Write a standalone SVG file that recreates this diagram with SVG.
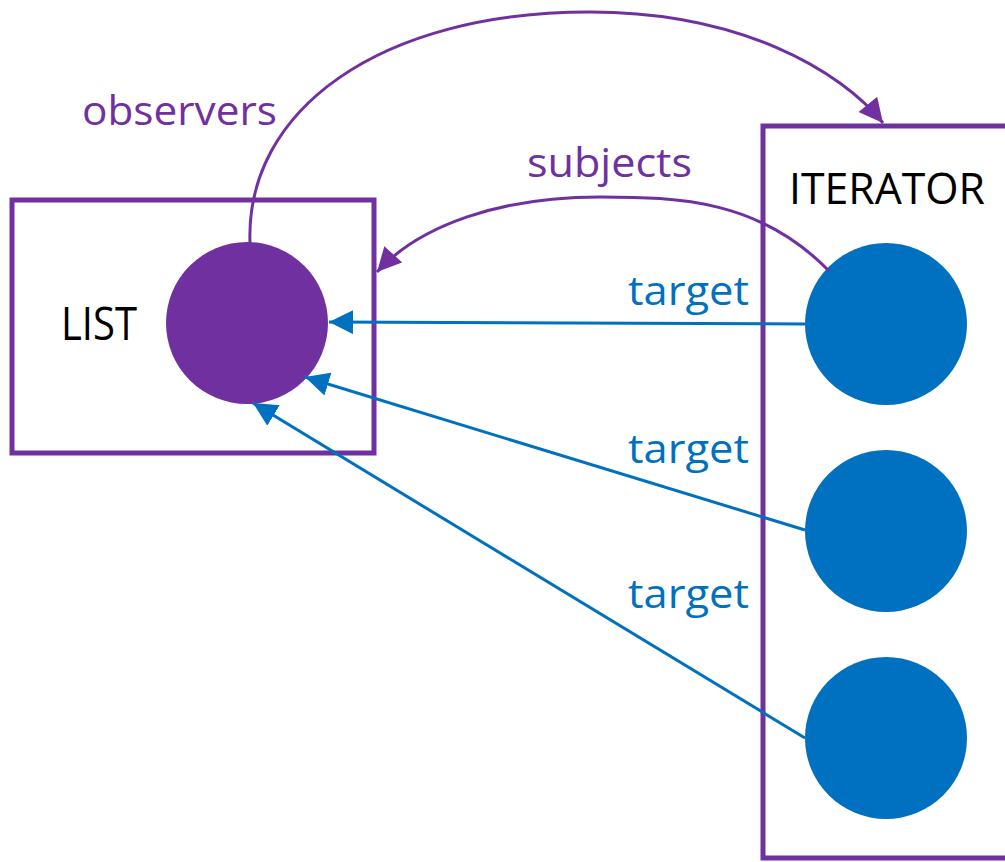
<svg xmlns="http://www.w3.org/2000/svg" width="1005" height="862" viewBox="0 0 1005 862">
<style>
.box{fill:#fff;stroke:#7030A0;stroke-width:5}
.lbl{font-family:"Open Sans","Liberation Sans",sans-serif}
.pur{fill:#7030A0}
.blu{fill:#0070C0}
.blk{fill:#000}
.cp{fill:none;stroke:#7030A0;stroke-width:3}
.cb{fill:none;stroke:#0070C0;stroke-width:3}
</style>
<defs>
<marker id="ap" viewBox="0 0 10 10" refX="10" refY="5" markerWidth="25" markerHeight="24" markerUnits="userSpaceOnUse" orient="auto"><path d="M0,0 L10,5 L0,10 z" fill="#7030A0"/></marker>
<marker id="ab" viewBox="0 0 10 10" refX="10" refY="5" markerWidth="24" markerHeight="24" markerUnits="userSpaceOnUse" orient="auto"><path d="M0,0 L10,5 L0,10 z" fill="#0070C0"/></marker>
</defs>
<g id="list">
<rect class="box" x="12" y="200" width="362" height="253"/>
<text class="lbl blk" x="61" y="340" font-size="45" textLength="76" lengthAdjust="spacingAndGlyphs">LIST</text>
</g>
<g id="iterator">
<rect class="box" x="763" y="126" width="260" height="732"/>
<text class="lbl blk" x="789" y="204" font-size="44" textLength="196" lengthAdjust="spacingAndGlyphs">ITERATOR</text>
</g>
<g id="list-node"><circle cx="247" cy="323" r="81" fill="#7030A0"/></g>
<g id="iter-node-1"><circle cx="886" cy="324" r="81" fill="#0070C0"/></g>
<g id="iter-node-2"><circle cx="886" cy="531" r="81" fill="#0070C0"/></g>
<g id="iter-node-3"><circle cx="886" cy="738" r="81" fill="#0070C0"/></g>
<g id="connectors">
<path class="cp" d="M250,243 C245,110 380,12 590,12 C740,12 840,70 883,123" marker-end="url(#ap)"/>
<path class="cp" d="M829,271 C760,200 680,197 600,197 C500,197 420,225 377,272" marker-end="url(#ap)"/>
<line class="cb" x1="805" y1="324" x2="329" y2="322" marker-end="url(#ab)"/>
<line class="cb" x1="805" y1="530" x2="305" y2="377" marker-end="url(#ab)"/>
<line class="cb" x1="805" y1="738" x2="253" y2="403" marker-end="url(#ab)"/>
</g>
<g id="labels">
<text class="lbl pur" x="82" y="125" font-size="41" textLength="195" lengthAdjust="spacingAndGlyphs">observers</text>
<text class="lbl pur" x="527" y="177" font-size="41" textLength="165" lengthAdjust="spacingAndGlyphs">subjects</text>
<text class="lbl blu" x="628" y="305" font-size="41" textLength="121" lengthAdjust="spacingAndGlyphs">target</text>
<text class="lbl blu" x="628" y="463" font-size="41" textLength="121" lengthAdjust="spacingAndGlyphs">target</text>
<text class="lbl blu" x="628" y="608" font-size="41" textLength="121" lengthAdjust="spacingAndGlyphs">target</text>
</g>
</svg>
